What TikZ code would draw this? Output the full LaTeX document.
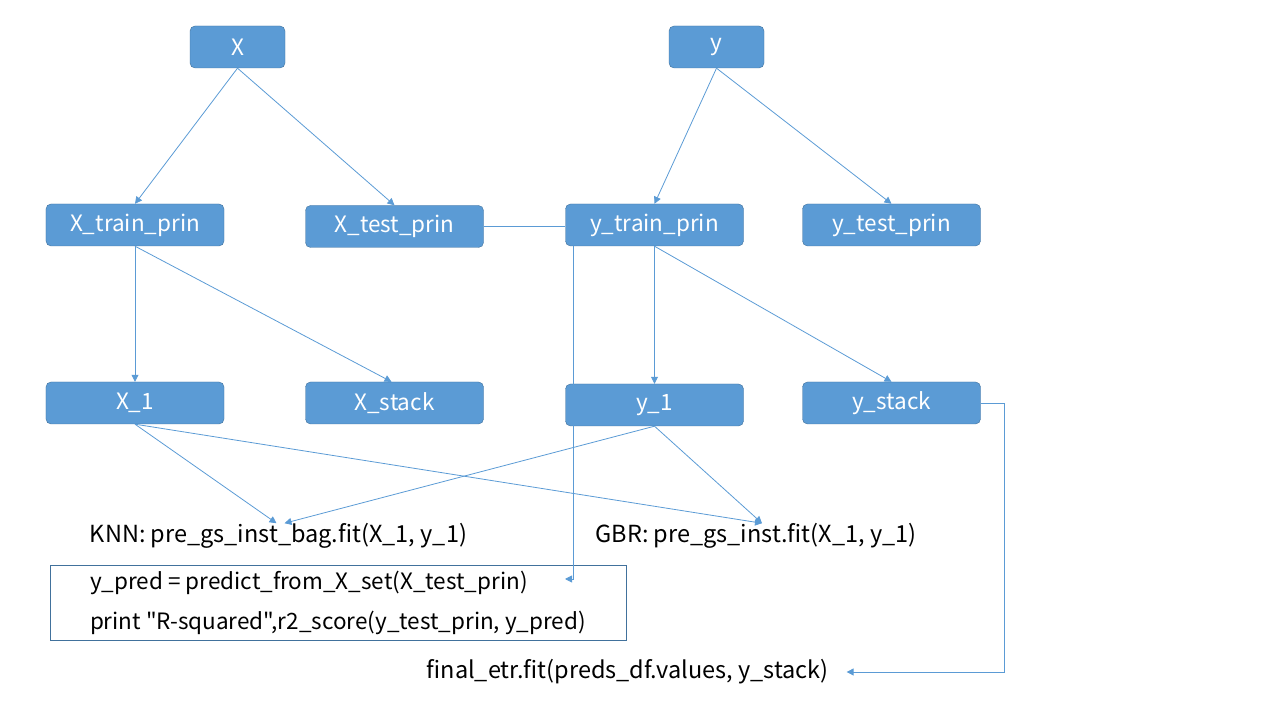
\documentclass[tikz,border=0pt]{standalone}
\usepackage{fontspec}
\setmainfont{Noto Sans CJK JP}[Ligatures=TeXOff]
\usetikzlibrary{arrows.meta,calc}
\definecolor{boxfill}{HTML}{5B9BD5}
\definecolor{boxline}{HTML}{41719C}
\definecolor{wire}{HTML}{5B9BD5}
\begin{document}
\begin{tikzpicture}[x=1bp,y=1bp,
    >={Triangle[length=7bp,width=7bp]},
    var/.style={draw=boxline,fill=boxfill,rounded corners=5bp,text=white,
      minimum height=42bp,inner sep=0pt,font=\fontsize{22.5bp}{27bp}\selectfont},
    varsmall/.style={var,minimum width=95bp},
    varwide/.style={var,minimum width=178bp},
    code/.style={inner sep=0pt,font=\fontsize{23.5bp}{40bp}\selectfont},
    wire/.style={draw=wire,line width=0.8bp},
  ]
    \useasboundingbox (0,0) rectangle (1280,720);
    %%
    \node (X) at (237.5,673) [varsmall] {X};
    \node (y) at (716.5,673) [varsmall] {y};
    \node (Xtrain) at (135,495) [varwide] {X\_train\_prin};
    \node (Xtest) at (394.5,493.5) [varwide] {X\_test\_prin};
    \node (ytrain) at (654.5,495) [varwide] {y\_train\_prin};
    \node (ytest) at (891.5,495) [varwide] {y\_test\_prin};
    \node (X1) at (135,317) [varwide] {X\_1};
    \node (Xstack) at (394.5,317) [varwide] {X\_stack};
    \node (y1) at (654.5,315) [varwide] {y\_1};
    \node (ystack) at (891.5,317) [varwide] {y\_stack};
    \node (knn) at (278.5,184) [code] {KNN: pre\_gs\_inst\_bag.fit(X\_1,\ y\_1)};
    \node (gbr) at (756,184) [code] {GBR: pre\_gs\_inst.fit(X\_1,\ y\_1)};
    \node (pred) at (338,117.5) [code,draw=boxline,line width=0.8bp,
      font=\fontsize{22.5bp}{40bp}\selectfont,
      minimum width=576bp,minimum height=75bp,align=left]
      {y\_pred = predict\_from\_X\_set(X\_test\_prin)\\
       print "R-squared",r2\_score(y\_test\_prin,\ y\_pred)};
    \node (final) at (627.5,48) [code] {final\_etr.fit(preds\_df.values,\ y\_stack)};
    \coordinate (predin) at (565,141);
    %
    \draw [wire,->] (X.south) -- (Xtrain.north);
    \draw [wire,->] (X.south) -- (Xtest.north);
    \draw [wire,->] (y.south) -- (ytrain.north);
    \draw [wire,->] (y.south) -- (ytest.north);
    \draw [wire] (Xtest.east) -- (Xtest.east -| ytrain.west);
    \draw [wire,->] (Xtrain.south) -- (X1.north);
    \draw [wire,->] (Xtrain.south) -- ([xshift=-3bp]Xstack.north);
    \draw [wire,->] (ytrain.south) -- (y1.north);
    \draw [wire,->] (ytrain.south) -- (ystack.north);
    \draw [wire,->] ([xshift=8bp]ytrain.south west) |- (predin);
    \draw [wire,->] (X1.south) -- ([xshift=-2bp]knn.north);
    \draw [wire,->] (X1.south) -- ([xshift=6bp]gbr.north);
    \draw [wire,->] (y1.south) -- ([xshift=6bp]knn.north);
    \draw [wire,->] (y1.south) -- ([xshift=6bp]gbr.north);
    \draw [wire,->] (ystack.east) -- ++(24bp,0) |- ([xshift=18bp]final.east);
    %
\end{tikzpicture}
\end{document}
